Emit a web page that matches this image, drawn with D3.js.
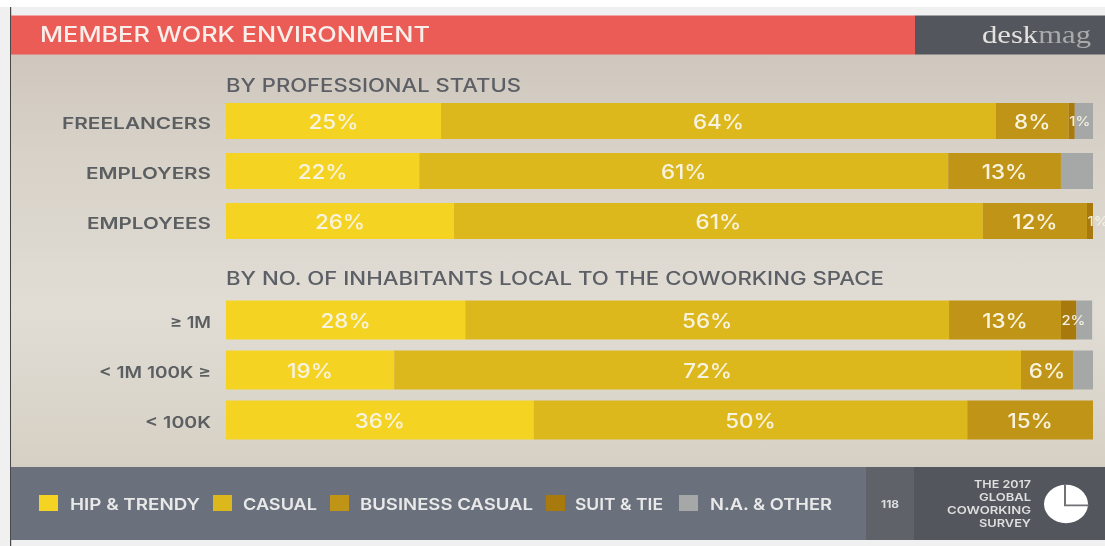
<!DOCTYPE html>
<html><head><meta charset="utf-8">
<script src="https://cdn.jsdelivr.net/npm/d3@7"></script>
<style>html,body{margin:0;padding:0;background:#fff;overflow:hidden}svg{display:block}text{font-family:Inter,"Open Sans",sans-serif}</style>
</head><body><div id="chart"></div>
<script>
const title = "MEMBER WORK ENVIRONMENT";
const groupTitles = ["BY PROFESSIONAL STATUS", "BY NO. OF INHABITANTS LOCAL TO THE COWORKING SPACE"];
const statusRows = ["FREELANCERS", "EMPLOYERS", "EMPLOYEES"];
const localRows = ["≥ 1M", "< 1M 100K ≥", "< 100K"];
const rows = statusRows.concat(localRows);
const seriesNames = ["HIP & TRENDY", "CASUAL", "BUSINESS CASUAL", "SUIT & TIE", "N.A. & OTHER"];
const hipTrendy = [24.8, 22.3, 26.3, 27.6, 19.4, 35.5];
const casual = [64, 61, 61, 55.8, 72.3, 50];
const businessCasual = [8.4, 13, 12, 12.9, 6, 14.5];
const suitTie = [0.7, 0, 0.7, 1.8, 0, 0];
const naOther = [2.1, 3.7, 0, 1.8, 2.3, 0];
const hipLabels = ["25%", "22%", "26%", "28%", "19%", "36%"];
const casualLabels = ["64%", "61%", "61%", "56%", "72%", "50%"];
const businessLabels = ["8%", "13%", "12%", "13%", "6%", "15%"];
const suitLabels = ["1%", "", "1%", "2%", "", ""];
const surveyLines = ["THE 2017", "GLOBAL", "COWORKING", "SURVEY"];
const pageNumber = "118";

const W = 1105, H = 546;
const colors = ["#f4d322", "#dcb81f", "#c09413", "#a87a10", "#a5a8a6"];
const svg = d3.select("#chart").append("svg").attr("width", W).attr("height", H);

const defs = svg.append("defs");
const grad = defs.append("linearGradient").attr("id", "bg").attr("x1", 0).attr("x2", 0).attr("y1", 0).attr("y2", 1);
[[0, "#cfc7bd"], [0.25, "#d8d2c8"], [0.62, "#e1ddd5"], [1, "#d6d0c4"]].forEach(([o, c]) =>
  grad.append("stop").attr("offset", o).attr("stop-color", c));
defs.append("filter").attr("id", "soft").append("feGaussianBlur").attr("stdDeviation", 0.4);

const root = svg.append("g").attr("filter", "url(#soft)");
const rect = (x, y, w, h, fill) => root.append("rect").attr("x", x).attr("y", y).attr("width", w).attr("height", h).attr("fill", fill);

// Widens the sans face to the proportions of the original's geometric lettering.
function put(sel, text, x, y, size, weight, fill, anchor, targetWidth, factor) {
  const t = sel.append("text").attr("x", x).attr("y", y).attr("dy", "0.36em")
    .attr("font-size", size).attr("font-weight", weight).attr("fill", fill)
    .attr("text-anchor", anchor || "start").text(text);
  const natural = t.node().getComputedTextLength();
  const len = targetWidth || natural * (factor || 1);
  t.attr("textLength", len).attr("lengthAdjust", "spacingAndGlyphs");
  return t;
}

// page
rect(0, 7, W, H - 7, "#f0f0f0");
rect(10, 7, 1.2, H - 7, "#4a4a4a");
rect(11, 54, W - 11, 413, "url(#bg)");
rect(11, 15.5, 904, 39, "#ec5b56");
rect(915, 15.5, W - 915, 39, "#52565c");
rect(11, 467, 855, 73, "#6a717c");
rect(866, 467, 48, 73, "#5f6268");
rect(914, 467, W - 914, 73, "#52565c");

// header
put(root, title, 40, 34.5, 21.5, 500, "#f8eeea", "start", 390);
const desk = root.append("text").attr("x", 982).attr("y", 42.5).attr("font-size", 25)
  .attr("textLength", 109).attr("lengthAdjust", "spacingAndGlyphs")
  .style("font-family", "'Liberation Serif',serif");
desk.append("tspan").attr("fill", "#e4e2de").text("desk");
desk.append("tspan").attr("fill", "#a9abab").text("mag");

// scales
const x = d3.scaleLinear().domain([0, 100]).range([226, 1093]);
const yTop = d3.scaleBand().domain(statusRows).range([103, 239]).paddingInner(14 / 50);
const yBottom = d3.scaleBand().domain(localRows).range([300.5, 439.5]).paddingInner(11 / 50);
const yOf = r => statusRows.includes(r) ? yTop(r) : yBottom(r);
const hOf = r => statusRows.includes(r) ? yTop.bandwidth() : yBottom.bandwidth();

// group titles
put(root, groupTitles[0], 226, 86, 18, 500, "#5c6066", "start", 295);
put(root, groupTitles[1], 226, 279, 18, 500, "#5c6066", "start", 658);

// stacked bars
const table = rows.map((r, i) => ({
  row: r,
  [seriesNames[0]]: hipTrendy[i], [seriesNames[1]]: casual[i], [seriesNames[2]]: businessCasual[i],
  [seriesNames[3]]: suitTie[i], [seriesNames[4]]: naOther[i]
}));
const stacked = d3.stack().keys(seriesNames)(table);
const labelSets = [hipLabels, casualLabels, businessLabels, suitLabels];

root.append("g").selectAll("g").data(stacked).join("g").attr("fill", (d, i) => colors[i])
  .selectAll("rect").data(d => d).join("rect")
  .attr("x", d => x(d[0])).attr("width", d => x(d[1]) - x(d[0]))
  .attr("y", d => yOf(d.data.row)).attr("height", d => hOf(d.data.row));

// value labels
const vals = root.append("g");
stacked.forEach((s, si) => {
  if (si > 3) return;
  s.forEach((d, i) => {
    const txt = labelSets[si][i];
    if (!txt) return;
    const cy = yOf(d.data.row) + hOf(d.data.row) / 2 + 0.8;
    if (si === 3) put(vals, txt, x(d[0]) + 0.5, cy, 13, 500, "#f3efe2", "start", null, 1.15);
    else put(vals, txt, (x(d[0]) + x(d[1])) / 2, cy, 20, 500, "#f8f3df", "middle", null, 1.12);
  });
});

// row labels through the library's axis
function rowAxis(scale, widths) {
  const g = root.append("g").attr("transform", "translate(226,0)").call(d3.axisLeft(scale).tickSize(0).tickPadding(15));
  g.select(".domain").remove();
  g.selectAll("text").each(function (d, i) {
    d3.select(this).attr("font-size", 16.5).attr("font-weight", 600).attr("fill", "#5c5f62")
      .attr("dy", "0.48em").style("font-family", "Inter,sans-serif")
      .attr("textLength", widths[i]).attr("lengthAdjust", "spacingAndGlyphs");
  });
}
rowAxis(yTop, [149, 125, 124]);
rowAxis(yBottom, [41, 112, 66]);

// legend
const legendSwatchX = [39, 213, 330, 546, 679];
const legendTextX = [70, 243, 360, 575, 710];
const legendTextW = [130, 74, 173, 88, 122];
seriesNames.forEach((n, i) => {
  rect(legendSwatchX[i], 495, 19, 16, colors[i]);
  put(root, n, legendTextX[i], 504.5, 16.5, 600, "#e9e9ea", "start", legendTextW[i]);
});

// footer
put(root, pageNumber, 890, 504, 11, 700, "#dcdcdc", "middle", 18);
const surveyW = [57, 52, 84, 52];
surveyLines.forEach((l, i) => put(root, l, 1031, 484 + i * 13, 10.5, 600, "#dfdfdf", "end", surveyW[i]));

// pie icon
const arc = d3.arc().innerRadius(0).outerRadius(22);
const pieIcon = root.append("g").attr("transform", "translate(1066,504) scale(1,0.87)");
const slices = d3.pie().sort(null)([25, 75]);
pieIcon.selectAll("path").data(slices).join("path").attr("d", arc).attr("fill", "#fff");
pieIcon.append("path").attr("d", d3.line()([[-1, -23], [-1, 1.5], [23, 1.5]]))
  .attr("fill", "none").attr("stroke", "#6f7276").attr("stroke-width", 2);
</script></body></html>
